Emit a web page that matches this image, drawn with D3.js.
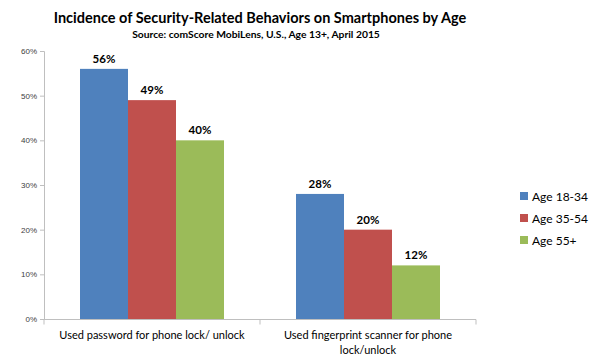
<!DOCTYPE html>
<html><head><meta charset="utf-8">
<script src="https://d3js.org/d3.v7.min.js"></script>
<style>body{margin:0;background:#fff;} svg{display:block;font-family:Lato, "Open Sans", sans-serif;}</style>
</head><body>
<svg id="chart" width="600" height="359"></svg>
<script>
const categories = [["Used password for phone lock/ unlock"], ["Used fingerprint scanner for phone", "lock/unlock"]];
const categoryKeys = ["password", "fingerprint"];
const seriesNames = ["Age 18-34", "Age 35-54", "Age 55+"];
const seriesColors = ["#4F81BD", "#C0504D", "#9BBB59"];
const age1834 = [56, 28];
const age3554 = [49, 20];
const age55 = [40, 12];
const tickValues = [0, 10, 20, 30, 40, 50, 60];

const seriesValues = [age1834, age3554, age55];
const svg = d3.select("#chart");
const x0 = d3.scaleBand().domain(categoryKeys).range([44, 476]).paddingInner(0).paddingOuter(0);
const x1 = d3.scaleBand().domain(seriesNames).range([36, x0.bandwidth() - 36]).paddingInner(0).paddingOuter(0);
const y = d3.scaleLinear().domain([0, 60]).range([319, 51]);

// title
svg.append("text").attr("x", 260).attr("y", 23).attr("text-anchor", "middle")
  .attr("font-size", 14.5).attr("font-weight", "bold").attr("fill", "#000")
  .text("Incidence of Security-Related Behaviors on Smartphones by Age");
svg.append("text").attr("x", 256).attr("y", 38).attr("text-anchor", "middle")
  .attr("font-size", 10.3).attr("font-weight", "bold").attr("fill", "#000")
  .text("Source: comScore MobiLens, U.S., Age 13+, April 2015");

// y axis
const yAxis = d3.axisLeft(y).tickValues(tickValues).tickSize(4).tickFormat(d => d + "%");
const ya = svg.append("g").attr("transform", "translate(44,0)").call(yAxis);
ya.select(".domain").attr("stroke", "#bfbfbf");
ya.selectAll(".tick line").attr("stroke", "#bfbfbf");
ya.selectAll(".tick text").attr("font-size", 8).attr("fill", "#404040").attr("x", -7).attr("font-family", "Liberation Sans Narrow, Arial Narrow, sans-serif");

// x axis
const xa = svg.append("g").attr("transform", "translate(0,319.5)");
xa.append("line").attr("x1", 44).attr("x2", 476).attr("stroke", "#bfbfbf");
[0, 1, 2].forEach(i => {
  const xp = i < 2 ? x0(categoryKeys[i]) : x0.range()[1];
  xa.append("line").attr("x1", xp).attr("x2", xp).attr("y1", 0).attr("y2", 5).attr("stroke", "#bfbfbf");
});

// bars
categoryKeys.forEach((c, ci) => {
  seriesNames.forEach((s, si) => {
    const v = seriesValues[si][ci];
    const bx = x0(c) + x1(s);
    svg.append("rect").attr("x", bx).attr("y", y(v)).attr("width", x1.bandwidth())
      .attr("height", y(0) - y(v)).attr("fill", seriesColors[si]);
    svg.append("text").attr("x", bx + x1.bandwidth() / 2).attr("y", y(v) - 6)
      .attr("text-anchor", "middle").attr("font-size", 11.5).attr("font-weight", "bold")
      .attr("fill", "#000").text(v + "%");
  });
  const cx = x0(c) + x0.bandwidth() / 2;
  categories[ci].forEach((line, li) => {
    svg.append("text").attr("x", cx).attr("y", 339 + li * 15).attr("text-anchor", "middle")
      .attr("font-size", 11).attr("fill", "#000").text(line);
  });
});

// legend
seriesNames.forEach((s, i) => {
  const ly = 196 + i * 22;
  svg.append("rect").attr("x", 520).attr("y", ly - 4).attr("width", 8).attr("height", 8).attr("fill", seriesColors[i]);
  svg.append("text").attr("x", 532).attr("y", ly + 4.5).attr("font-size", 12).attr("fill", "#000").text(s);
});
</script>
</body></html>
